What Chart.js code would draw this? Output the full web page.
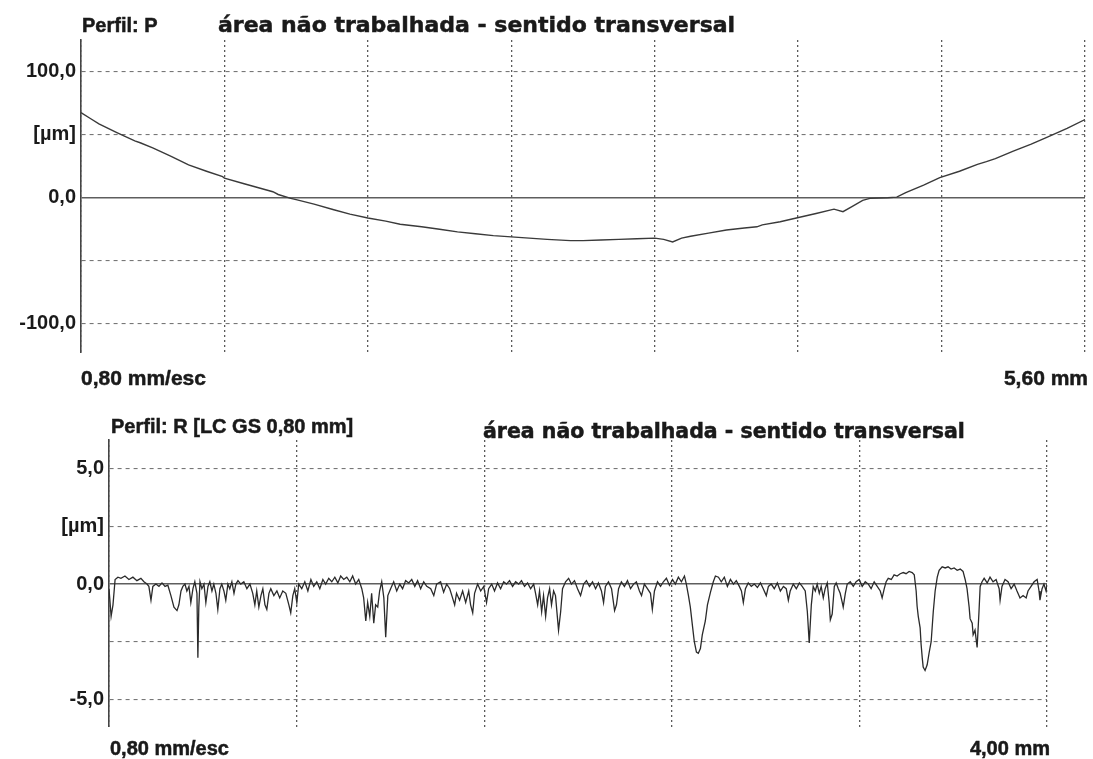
<!DOCTYPE html>
<html><head><meta charset="utf-8">
<script src="https://cdn.jsdelivr.net/npm/chart.js@4.4.1/dist/chart.umd.min.js"></script>
<style>
html,body{margin:0;padding:0;background:#fff;width:1093px;height:759px;overflow:hidden;}
.t{position:absolute;white-space:nowrap;color:#1a1a1a;font-weight:bold;line-height:1;-webkit-text-stroke:0.5px #1a1a1a;}
.dv{font-family:"DejaVu Sans",sans-serif;}
.lb{font-family:"Liberation Sans",Arial,sans-serif;}
#c1{position:absolute;left:0;top:0;width:1093px;height:400px;}
#c2{position:absolute;left:0;top:400px;width:1093px;height:359px;}
</style></head><body>
<canvas id="c1" width="1093" height="400"></canvas>
<canvas id="c2" width="1093" height="359"></canvas>
<div class="t lb" style="left:82px;top:15px;font-size:20px">Perfil: P</div>
<div class="t dv" style="left:218px;top:14px;font-size:22px">área não trabalhada - sentido transversal</div>
<div class="t lb" style="left:81px;top:367px;font-size:21px">0,80 mm/esc</div>
<div class="t lb" style="right:5px;top:367px;font-size:21px">5,60 mm</div>
<div class="t lb" style="left:111px;top:416px;font-size:20px">Perfil: R [LC GS 0,80 mm]</div>
<div class="t dv" style="left:483px;top:421px;font-size:20.5px">área não trabalhada - sentido transversal</div>
<div class="t lb" style="left:110px;top:738px;font-size:20px">0,80 mm/esc</div>
<div class="t lb" style="right:43px;top:738px;font-size:20px">4,00 mm</div>
<script>
// ---- P profile (primary profile), x in mm, y in µm
const pX = [0,0.05,0.1,0.2,0.3,0.33,0.4,0.5,0.6,0.7,0.79,0.8,0.9,1.0,1.07,1.1,1.17,1.2,1.3,1.41,1.5,1.6,1.7,1.78,1.9,2.0,2.1,2.2,2.3,2.4,2.5,2.6,2.73,2.8,2.9,3.0,3.1,3.2,3.25,3.3,3.35,3.4,3.5,3.6,3.7,3.77,3.8,3.9,3.99,4.1,4.2,4.25,4.3,4.36,4.4,4.5,4.55,4.6,4.7,4.79,4.9,5.0,5.05,5.1,5.2,5.3,5.39,5.5,5.6];
const pY = [67.5,63,58.5,51.6,45,43.6,39.5,33,26,21,16.7,15.5,11.5,7.5,4.8,2.6,-0.5,-1.5,-5,-9.5,-13,-16,-18.5,-21,-23,-25,-27,-28.5,-30,-31,-32,-33,-34,-34,-33.5,-33,-32.5,-32,-33,-35,-32,-30.5,-28,-25.5,-24,-23,-21.5,-19,-16,-12.5,-9,-11,-7,-2,-0.5,0,0.5,4,10,16,21,26.5,28.6,31,37,42.5,48,55,62];
const pXTicks = [0,0.8,1.6,2.4,3.2,4.0,4.8,5.6];
const pYTicks = [-100,-50,0,50,100];
const pYLabels = ['-100,0','','0,0','[µm]','100,0'];

// ---- R profile (roughness), x in mm, y in µm
const rX = [
0.000,0.009,0.017,0.026,0.038,0.051,0.068,0.085,0.102,0.119,
0.136,0.149,0.162,0.170,0.179,0.187,0.200,0.213,0.226,0.239,
0.251,0.264,0.277,0.290,0.298,0.307,0.315,0.324,0.332,0.341,
0.349,0.358,0.366,0.375,0.379,0.383,0.388,0.396,0.405,0.413,
0.422,0.430,0.439,0.447,0.456,0.464,0.473,0.481,0.490,0.498,
0.507,0.515,0.524,0.533,0.541,0.550,0.562,0.575,0.588,0.601,
0.613,0.622,0.630,0.639,0.648,0.656,0.665,0.673,0.682,0.690,
0.703,0.716,0.728,0.741,0.754,0.767,0.775,0.784,0.792,0.801,
0.809,0.822,0.835,0.848,0.861,0.873,0.886,0.899,0.912,0.924,
0.937,0.950,0.963,0.976,0.988,1.001,1.014,1.027,1.039,1.052,
1.065,1.078,1.086,1.095,1.103,1.112,1.120,1.129,1.137,1.146,
1.154,1.163,1.172,1.180,1.189,1.201,1.214,1.227,1.240,1.252,
1.265,1.278,1.291,1.304,1.316,1.329,1.342,1.355,1.372,1.385,
1.397,1.414,1.427,1.440,1.453,1.465,1.474,1.482,1.495,1.508,
1.521,1.534,1.542,1.551,1.559,1.572,1.585,1.598,1.610,1.619,
1.632,1.644,1.657,1.670,1.683,1.695,1.708,1.721,1.734,1.747,
1.759,1.772,1.785,1.798,1.811,1.819,1.828,1.836,1.845,1.853,
1.862,1.870,1.879,1.887,1.896,1.904,1.917,1.926,1.934,1.947,
1.960,1.972,1.985,1.998,2.011,2.024,2.036,2.049,2.062,2.075,
2.087,2.100,2.109,2.117,2.130,2.143,2.156,2.164,2.173,2.185,
2.198,2.211,2.224,2.237,2.249,2.262,2.271,2.283,2.296,2.309,
2.317,2.326,2.339,2.352,2.364,2.377,2.390,2.403,2.415,2.428,
2.441,2.454,2.462,2.471,2.479,2.488,2.496,2.505,2.513,2.522,
2.530,2.543,2.552,2.565,2.577,2.586,2.599,2.611,2.624,2.637,
2.650,2.663,2.675,2.688,2.697,2.705,2.714,2.726,2.739,2.752,
2.765,2.778,2.790,2.803,2.812,2.824,2.837,2.850,2.863,2.876,
2.888,2.897,2.905,2.918,2.931,2.944,2.956,2.969,2.978,2.986,
2.995,3.003,3.012,3.020,3.029,3.037,3.046,3.054,3.063,3.071,
3.076,3.084,3.093,3.101,3.110,3.118,3.127,3.131,3.140,3.148,
3.161,3.174,3.186,3.199,3.212,3.225,3.238,3.250,3.263,3.276,
3.289,3.297,3.306,3.314,3.323,3.336,3.348,3.361,3.374,3.387,
3.399,3.412,3.425,3.434,3.442,3.446,3.451,3.459,3.463,3.468,
3.472,3.480,3.489,3.497,3.506,3.515,3.523,3.532,3.540,3.553,
3.566,3.578,3.591,3.604,3.617,3.630,3.642,3.651,3.659,3.668,
3.672,3.681,3.685,3.693,3.702,3.710,3.715,3.723,3.732,3.745,
3.757,3.770,3.783,3.796,3.800,3.808,3.821,3.834,3.847,3.860,
3.872,3.885,3.898,3.911,3.919,3.932,3.945,3.958,3.966,3.970,
3.979,3.987,3.996,4.000];
const rY = [
-0.2,-1.4,-0.9,0.2,0.3,0.25,0.35,0.2,0.3,0.15,
0.25,0.1,0.0,-0.1,-0.7,-0.1,0.0,-0.1,0.05,-0.1,
-0.05,-0.5,-1.0,-1.15,-0.9,-0.3,-0.1,0.0,-0.3,-0.1,
-0.8,-0.2,0.1,-0.4,-3.2,-1.0,0.1,-0.2,0.0,-0.8,
-0.1,0.1,-0.3,0.0,-0.4,-1.1,-0.2,0.0,-0.3,-0.7,
0.0,-0.2,0.1,-0.4,0.0,0.15,0.0,0.1,-0.2,0.0,
-0.4,-0.9,-0.3,-1.0,-0.5,-0.2,-0.9,-1.1,-0.4,-0.2,
-0.5,-0.3,-0.6,-0.3,-0.4,-0.9,-1.25,-0.5,-0.2,-0.8,
0.0,-0.2,0.1,-0.3,0.2,-0.1,0.1,-0.2,0.2,0.0,
0.25,0.1,0.3,0.05,0.35,0.2,0.3,0.1,0.35,0.0,
0.2,-0.2,-0.6,-1.6,-0.8,-1.4,-0.4,-1.7,-0.9,-1.0,
-0.3,0.1,-0.6,-2.3,-0.5,-0.2,0.1,-0.3,0.0,-0.2,
0.15,0.05,0.2,-0.1,0.15,-0.2,0.1,-0.1,-0.2,-0.5,
0.0,0.1,-0.35,0.0,-0.2,-0.6,-0.9,-0.4,-0.7,-0.3,
-0.8,-0.3,-0.9,-1.25,-0.4,0.0,-0.3,-0.1,-0.8,-0.2,
0.0,-0.3,0.05,-0.2,0.1,0.0,0.15,-0.1,0.1,0.0,
0.15,-0.1,0.05,-0.2,0.0,-0.4,-0.9,-0.3,-1.2,-0.5,
-1.4,-0.6,-0.2,-0.9,-0.3,-0.5,-2.0,-1.2,-0.2,0.1,
0.25,0.0,0.15,-0.2,-0.5,0.0,0.15,-0.1,0.1,-0.2,
0.05,-0.3,-0.8,-0.1,0.1,-0.2,-1.15,-0.9,-0.2,0.1,
-0.1,0.15,-0.2,0.0,0.1,-0.3,-0.5,0.0,-0.2,-0.4,
-1.1,-0.3,0.1,-0.1,0.1,0.25,-0.05,0.2,0.0,0.3,
0.1,0.35,0.0,-0.5,-1.0,-1.8,-2.5,-2.95,-3.0,-2.8,
-2.2,-1.6,-0.9,-0.35,0.1,0.35,0.3,0.1,0.3,-0.1,
0.2,0.0,0.15,-0.1,-0.3,-0.8,-0.2,0.05,-0.1,0.0,
-0.15,0.05,-0.2,-0.5,-0.1,0.0,-0.2,0.05,-0.3,-0.1,
-0.2,-0.7,-0.3,0.0,-0.2,0.05,-0.1,-0.3,-1.2,-2.55,
-0.9,-0.1,-0.3,0.0,-0.4,-0.1,-0.6,-0.2,0.05,-0.8,
-1.55,-1.3,-0.1,0.05,-0.2,-0.4,-0.8,-1.0,-0.4,0.0,
0.1,-0.1,0.1,0.2,-0.1,0.1,0.0,-0.2,0.1,-0.1,
-0.3,-0.6,-0.2,0.1,0.25,0.2,0.4,0.35,0.45,0.5,
0.45,0.55,0.5,0.4,-0.3,-0.95,-1.4,-1.9,-2.6,-3.2,
-3.6,-3.75,-3.5,-3.0,-2.5,-1.2,-0.3,0.3,0.6,0.75,
0.7,0.75,0.65,0.7,0.6,0.65,0.55,0.2,-0.2,-1.0,
-1.5,-1.7,-2.2,-2.0,-2.75,-1.2,-0.1,0.1,0.25,0.05,
0.3,0.1,0.2,-0.2,-0.7,-0.1,0.2,0.1,-0.2,0.0,
-0.3,-0.6,-0.5,-0.6,-0.3,-0.1,0.1,0.2,-0.3,-0.7,
-0.2,0.0,-0.3,0.0];
const rXTicks = [0,0.8,1.6,2.4,3.2,4.0];
const rYTicks = [-5,-2.5,0,2.5,5];
const rYLabels = ['-5,0','','0,0','[µm]','5,0'];

function isZero(ctx){ return ctx && ctx.tick && ctx.tick.value === 0; }
const hDash = ctx => isZero(ctx) ? [] : [4,4];
const vDash = () => [2,3];

function buildChart(id, xs, ys, o){
  const labelMap = {};
  o.yTicks.forEach((v,i)=>{ labelMap[v] = o.yLabels[i]; });
  return new Chart(document.getElementById(id), {
    type: 'line',
    data: { datasets: [{
      data: xs.map((x,i)=>({x:x, y:ys[i]})),
      borderColor: o.lineColor, borderWidth: o.lineWidth,
      pointRadius: 0, tension: 0, fill: false
    }]},
    options: {
      responsive: false, animation: false, events: [],
      layout: { padding: o.padding },
      plugins: { legend: {display:false}, tooltip: {enabled:false} },
      scales: {
        x: {
          type: 'linear', min: o.xMin, max: o.xMax,
          afterBuildTicks: s => { s.ticks = o.xTicks.map(v=>({value:v})); },
          afterFit: s => { s.height = 0; },
          ticks: { display: false },
          grid: { color: '#5a5a5a', lineWidth: 1.3, drawTicks: false, borderDash: vDash },
          border: { display: false, dash: vDash }
        },
        y: {
          min: o.yMin, max: o.yMax,
          afterBuildTicks: s => { s.ticks = o.yTicks.map(v=>({value:v})); },
          afterFit: s => { s.width = o.yWidth; },
          ticks: {
            callback: v => labelMap[v],
            font: { family: 'Liberation Sans', weight: 'bold', size: 20 },
            color: '#1a1a1a', padding: 5
          },
          grid: {
            color: ctx => isZero(ctx) ? '#5e5e5e' : '#777',
            lineWidth: ctx => isZero(ctx) ? 1.6 : 1.1,
            drawTicks: false, borderDash: hDash
          },
          border: { display: true, color: '#444', width: 1.6, dash: hDash }
        }
      }
    }
  });
}

buildChart('c1', pX, pY, {
  xMin: 0, xMax: 5.6, yMin: -123, yMax: 125,
  xTicks: pXTicks, yTicks: pYTicks, yLabels: pYLabels,
  yWidth: 81, padding: {left:0, right:8, top:40, bottom:47},
  lineColor: '#3a3a3a', lineWidth: 1.4
});
buildChart('c2', rX, rY, {
  xMin: 0, xMax: 4.0, yMin: -6.2, yMax: 6.25,
  xTicks: rXTicks, yTicks: rYTicks, yLabels: rYLabels,
  yWidth: 109, padding: {left:0, right:46, top:40, bottom:32},
  lineColor: '#2a2a2a', lineWidth: 1.3
});
</script>
</body></html>
